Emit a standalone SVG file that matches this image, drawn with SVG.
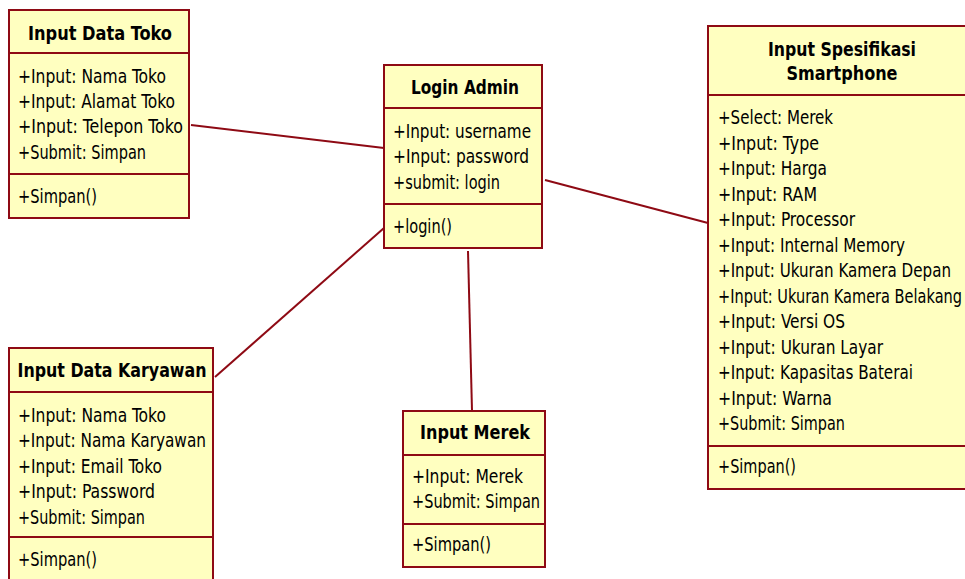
<svg xmlns="http://www.w3.org/2000/svg" width="965" height="579" viewBox="0 0 965 579">
<style>
.box{fill:#FFFFC0;stroke:#8E0A14;stroke-width:2}
.sep{stroke:#8E0A14;stroke-width:2}
.conn{stroke:#8E0A14;stroke-width:2;fill:none}
text{font-family:"DejaVu Sans Condensed","DejaVu Sans","Liberation Sans",sans-serif;font-size:20px;fill:#000}
.t{font-weight:bold;text-anchor:middle;font-size:19px}
</style>
<rect width="965" height="579" fill="#fff"/>
<g id="connectors">
<line class="conn" x1="191" y1="125" x2="384" y2="148"/>
<line class="conn" x1="545" y1="180" x2="708" y2="223"/>
<line class="conn" x1="384" y1="228" x2="215" y2="377"/>
<line class="conn" x1="468" y1="251" x2="472" y2="411"/>
</g>
<g id="input-data-toko">
<rect class="box" x="9" y="10" width="180" height="208"/>
<line class="sep" x1="9" y1="53" x2="189" y2="53"/>
<line class="sep" x1="9" y1="174" x2="189" y2="174"/>
<text class="t" x="100" y="40" textLength="144" lengthAdjust="spacingAndGlyphs">Input Data Toko</text>
<text x="18" y="83" textLength="148" lengthAdjust="spacingAndGlyphs">+Input: Nama Toko</text>
<text x="18" y="108" textLength="157" lengthAdjust="spacingAndGlyphs">+Input: Alamat Toko</text>
<text x="18" y="133" textLength="165" lengthAdjust="spacingAndGlyphs">+Input: Telepon Toko</text>
<text x="18" y="159" textLength="128" lengthAdjust="spacingAndGlyphs">+Submit: Simpan</text>
<text x="18" y="203" textLength="79" lengthAdjust="spacingAndGlyphs">+Simpan()</text>
</g>
<g id="login-admin">
<rect class="box" x="384" y="65" width="158" height="183"/>
<line class="sep" x1="384" y1="108" x2="542" y2="108"/>
<line class="sep" x1="384" y1="204" x2="542" y2="204"/>
<text class="t" x="465" y="94" textLength="108" lengthAdjust="spacingAndGlyphs">Login Admin</text>
<text x="393" y="138" textLength="138" lengthAdjust="spacingAndGlyphs">+Input: username</text>
<text x="393" y="163" textLength="136" lengthAdjust="spacingAndGlyphs">+Input: password</text>
<text x="393" y="189" textLength="107" lengthAdjust="spacingAndGlyphs">+submit: login</text>
<text x="393" y="233" textLength="59" lengthAdjust="spacingAndGlyphs">+login()</text>
</g>
<g id="input-spesifikasi-smartphone">
<rect class="box" x="708" y="26" width="280" height="463"/>
<line class="sep" x1="708" y1="95" x2="988" y2="95"/>
<line class="sep" x1="708" y1="446" x2="988" y2="446"/>
<text class="t" x="842" y="56" textLength="148" lengthAdjust="spacingAndGlyphs">Input Spesifikasi</text>
<text class="t" x="842" y="80" textLength="111" lengthAdjust="spacingAndGlyphs">Smartphone</text>
<text x="718" y="124" textLength="115" lengthAdjust="spacingAndGlyphs">+Select: Merek</text>
<text x="718" y="150" textLength="101" lengthAdjust="spacingAndGlyphs">+Input: Type</text>
<text x="718" y="175" textLength="109" lengthAdjust="spacingAndGlyphs">+Input: Harga</text>
<text x="718" y="201" textLength="99" lengthAdjust="spacingAndGlyphs">+Input: RAM</text>
<text x="718" y="226" textLength="137" lengthAdjust="spacingAndGlyphs">+Input: Processor</text>
<text x="718" y="252" textLength="187" lengthAdjust="spacingAndGlyphs">+Input: Internal Memory</text>
<text x="718" y="277" textLength="233" lengthAdjust="spacingAndGlyphs">+Input: Ukuran Kamera Depan</text>
<text x="718" y="303" textLength="244" lengthAdjust="spacingAndGlyphs">+Input: Ukuran Kamera Belakang</text>
<text x="718" y="328" textLength="127" lengthAdjust="spacingAndGlyphs">+Input: Versi OS</text>
<text x="718" y="354" textLength="165" lengthAdjust="spacingAndGlyphs">+Input: Ukuran Layar</text>
<text x="718" y="379" textLength="195" lengthAdjust="spacingAndGlyphs">+Input: Kapasitas Baterai</text>
<text x="718" y="405" textLength="114" lengthAdjust="spacingAndGlyphs">+Input: Warna</text>
<text x="718" y="430" textLength="127" lengthAdjust="spacingAndGlyphs">+Submit: Simpan</text>
<text x="718" y="473" textLength="78" lengthAdjust="spacingAndGlyphs">+Simpan()</text>
</g>
<g id="input-data-karyawan">
<rect class="box" x="9" y="348" width="204" height="236"/>
<line class="sep" x1="9" y1="392" x2="213" y2="392"/>
<line class="sep" x1="9" y1="537" x2="213" y2="537"/>
<text class="t" x="112" y="377" textLength="189" lengthAdjust="spacingAndGlyphs">Input Data Karyawan</text>
<text x="18" y="422" textLength="148" lengthAdjust="spacingAndGlyphs">+Input: Nama Toko</text>
<text x="18" y="447" textLength="188" lengthAdjust="spacingAndGlyphs">+Input: Nama Karyawan</text>
<text x="18" y="473" textLength="144" lengthAdjust="spacingAndGlyphs">+Input: Email Toko</text>
<text x="18" y="498" textLength="137" lengthAdjust="spacingAndGlyphs">+Input: Password</text>
<text x="18" y="524" textLength="127" lengthAdjust="spacingAndGlyphs">+Submit: Simpan</text>
<text x="18" y="566" textLength="79" lengthAdjust="spacingAndGlyphs">+Simpan()</text>
</g>
<g id="input-merek">
<rect class="box" x="403" y="411" width="142" height="156"/>
<line class="sep" x1="403" y1="455" x2="545" y2="455"/>
<line class="sep" x1="403" y1="524" x2="545" y2="524"/>
<text class="t" x="475" y="439" textLength="110" lengthAdjust="spacingAndGlyphs">Input Merek</text>
<text x="412" y="483" textLength="111" lengthAdjust="spacingAndGlyphs">+Input: Merek</text>
<text x="412" y="508" textLength="128" lengthAdjust="spacingAndGlyphs">+Submit: Simpan</text>
<text x="412" y="551" textLength="79" lengthAdjust="spacingAndGlyphs">+Simpan()</text>
</g>
</svg>
